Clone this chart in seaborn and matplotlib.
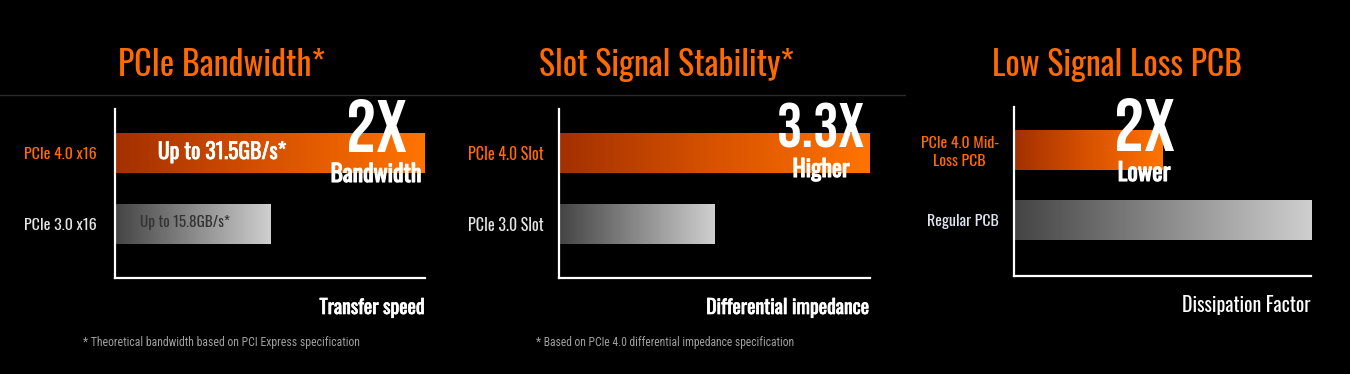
import numpy as np
import pandas as pd
import matplotlib
matplotlib.use("Agg")
import matplotlib.pyplot as plt
import matplotlib.patheffects as pe
import seaborn as sns
from matplotlib.colors import LinearSegmentedColormap
from matplotlib.lines import Line2D

# ---------------- data ----------------
titles = ["PCIe Bandwidth*", "Slot Signal Stability*", "Low Signal Loss PCB"]
bw_categories = ["PCIe 4.0 x16", "PCIe 3.0 x16"]
bw_values = [31.5, 15.8]
bw_bar_labels = ["Up to 31.5GB/s*", "Up to 15.8GB/s*"]
slot_categories = ["PCIe 4.0 Slot", "PCIe 3.0 Slot"]
slot_values = [1.0, 0.5]
pcb_categories = ["PCIe 4.0 Mid-\nLoss PCB", "Regular PCB"]
pcb_values = [0.5, 1.0]
axis_titles = ["Transfer speed", "Differential impedance", "Dissipation Factor"]
multipliers = ["2X", "3.3X", "2X"]
multiplier_words = ["Bandwidth", "Higher", "Lower"]
footnotes = ["* Theoretical bandwidth based on PCI Express specification",
             "* Based on PCIe 4.0 differential impedance specification"]

# ---------------- style ----------------
sns.set_theme(style="white", rc={"axes.facecolor": "black", "figure.facecolor": "black"})
MAIN = ["Oswald", "Barlow Condensed", "Roboto Condensed", "DejaVu Sans"]
BIG = ["Bebas Neue", "Oswald", "Barlow Condensed", "DejaVu Sans"]
WORD = ["Oswald", "Barlow Condensed", "DejaVu Sans"]
NOTE = ["Roboto Condensed", "Barlow Condensed", "Oswald", "DejaVu Sans"]
plt.rcParams["font.family"] = MAIN

def bold(lw, color="white"):
    return [pe.withStroke(linewidth=lw, foreground=color)]

ORANGE = "#ff6a00"
orange_cmap = LinearSegmentedColormap.from_list("og", ["#a33000", "#d85200", "#ff7400"])
gray_cmap = LinearSegmentedColormap.from_list("gr", ["#444444", "#cfcfcf"])

W, H = 1350, 374
fig = plt.figure(figsize=(W / 100, H / 100), dpi=100)

def px_axes(l, r, t, b):
    return fig.add_axes([l / W, 1 - b / H, (r - l) / W, (b - t) / H])

boxes = [(115, 425, 109, 278), (559, 870, 109, 278), (1014, 1311, 107, 276)]
ylims = [(1.76, -0.62), (1.76, -0.62), (1.8, -0.61)]
datasets = [(bw_categories, bw_values), (slot_categories, slot_values),
            (pcb_categories, pcb_values)]
pads = [13, 11, 11]
tick_fit = [(0, 73), (0, 76), (1, 72)]
xlabel_fit = [106, 164, 129]
xlabel_base = [314, 314, 312]
xlabel_stroke = [0.5, 0.5, 0.0]
grad = np.linspace(0, 1, 256).reshape(1, -1)

fits = []  # (text, target width px)

axes = []
for i, (box, (cats, vals)) in enumerate(zip(boxes, datasets)):
    ax = px_axes(*box)
    axes.append(ax)
    df = pd.DataFrame({"category": cats, "value": vals})
    sns.barplot(data=df, x="value", y="category", orient="h", ax=ax,
                width=0.563, color="#888888", linewidth=0)
    for j, p in enumerate(ax.patches):
        x0, y0, w, h = p.get_x(), p.get_y(), p.get_width(), p.get_height()
        p.set_facecolor("none")
        cmap = orange_cmap if j == 0 else gray_cmap
        im = ax.imshow(grad, extent=(x0, x0 + w, y0, y0 + h), aspect="auto",
                       cmap=cmap, zorder=2)
        im.set_clip_path(p)
    ax.set_xlim(0, max(vals))
    ax.set_ylim(*ylims[i])
    ax.set_xticks([])
    ax.set_ylabel("")
    for s in ["top", "right"]:
        ax.spines[s].set_visible(False)
    for s in ["left", "bottom"]:
        ax.spines[s].set_color("white")
        ax.spines[s].set_linewidth(1.6)
        ax.spines[s].set_zorder(5)
    ax.tick_params(axis="y", length=0, pad=pads[i], labelsize=13)
    tl = ax.get_yticklabels()
    tl[0].set_color(ORANGE)
    tl[1].set_color("#e4e4e4" if i < 2 else "#dfe4ee")
    for t in tl:
        t.set_multialignment("center")
    ax.set_xlabel(axis_titles[i], color="white", fontsize=16)
    if xlabel_stroke[i] > 0:
        ax.xaxis.label.set_path_effects(bold(xlabel_stroke[i]))
    ax.xaxis.set_label_coords(1.0, -(xlabel_base[i] - box[3]) / (box[3] - box[2]))
    ax.xaxis.label.set_ha("right")
    ax.xaxis.label.set_va("baseline")
    fits.append((ax.xaxis.label, xlabel_fit[i]))

# separator line under titles
fig.add_artist(Line2D([0, 905 / W], [1 - 95 / H, 1 - 95 / H], color="#2a2a2a", lw=1))

def ftext(x, y, s, width, **kw):
    t = fig.text(x / W, 1 - y / H, s, **kw)
    fits.append((t, width))
    return t

title_x = [221, 666, 1117]
title_w = [207, 255, 250]
for tx, t, tw in zip(title_x, titles, title_w):
    ftext(tx, 76, t, tw, color=ORANGE, fontsize=26, ha="center", va="baseline")

# bar labels in panel 1
ftext(222, 159, bw_bar_labels[0], 129, color="white", fontsize=16,
      ha="center", va="baseline", zorder=6, path_effects=bold(0.5))
ftext(185, 227, bw_bar_labels[1], 90, color="#333333", fontsize=13,
      ha="center", va="baseline", zorder=6)

# multipliers
mult_pos = [(376, 152, 182), (821, 148, 177), (1144, 151, 181)]
mult_w = [61, 88, 61]
word_w = [91, 57, 53]
for (mx, my, wy), m, wd, mw, ww in zip(mult_pos, multipliers, multiplier_words, mult_w, word_w):
    ftext(mx, my, m, mw, color="white", fontsize=50, fontweight="bold", family=BIG,
          ha="center", va="baseline", zorder=7)
    ftext(mx, wy, wd, ww, color="white", fontsize=18, family=WORD,
          ha="center", va="baseline", zorder=7, path_effects=bold(0.8))

# footnotes
ftext(83, 346, footnotes[0], 277, color="#a0a0a0", fontsize=8.5, family=NOTE,
      ha="left", va="baseline")
ftext(536, 346, footnotes[1], 260, color="#a0a0a0", fontsize=8.5, family=NOTE,
      ha="left", va="baseline")

# ---- fit text sizes to the reference widths ----
fig.canvas.draw()
renderer = fig.canvas.get_renderer()
for t, wpx in fits:
    bb = t.get_window_extent(renderer=renderer)
    if bb.width > 0:
        t.set_fontsize(t.get_fontsize() * wpx / bb.width)
for ax, (k, wpx) in zip(axes, tick_fit):
    lab = ax.get_yticklabels()[k]
    bb = lab.get_window_extent(renderer=renderer)
    if bb.width > 0:
        ax.tick_params(axis="y", labelsize=lab.get_fontsize() * wpx / bb.width)

fig.savefig("out.png", dpi=100, facecolor="black")
